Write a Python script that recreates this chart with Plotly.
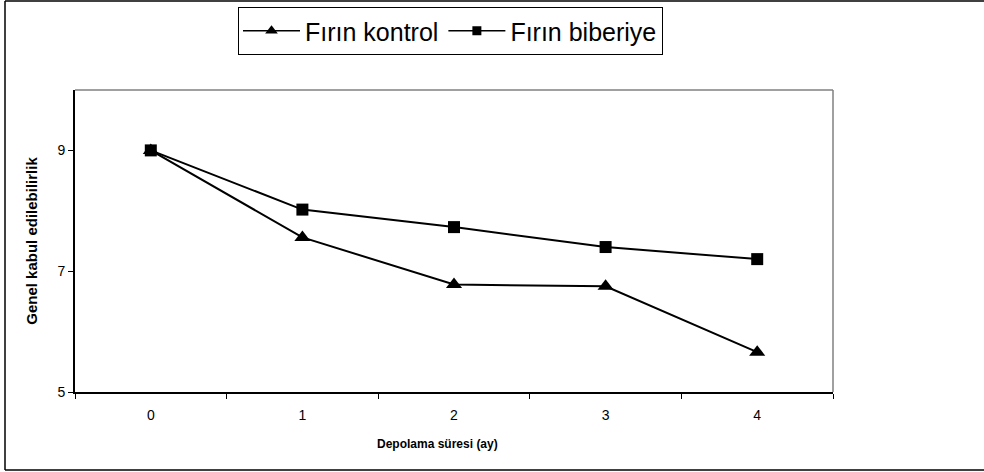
import plotly.graph_objects as go

months = ["0", "1", "2", "3", "4"]
firin_kontrol = [9.0, 7.56, 6.78, 6.75, 5.66]
firin_biberiye = [9.0, 8.02, 7.73, 7.40, 7.20]
y_ticks = [5, 7, 9]
series_names = ["Fırın kontrol", "Fırın biberiye"]
x_title = "Depolama süresi (ay)"
y_title = "Genel kabul edilebilirlik"

W, H = 984, 472
L, R, T, B = 75, 151, 90, 80
pw, ph = W - L - R, H - T - B

def px(x):
    return (x - L) / pw

def py(y):
    return (H - B - y) / ph

fig = go.Figure()
fig.add_trace(go.Scatter(
    x=months, y=firin_kontrol, name=series_names[0], mode="lines+markers",
    line=dict(color="black", width=2), showlegend=False, legendgroup="a",
    marker=dict(symbol="triangle-up", size=14, color="black"),
))
fig.add_trace(go.Scatter(
    x=months, y=firin_biberiye, name=series_names[1], mode="lines+markers",
    line=dict(color="black", width=2), showlegend=False, legendgroup="b",
    marker=dict(symbol="square", size=12, color="black"),
))
fig.add_trace(go.Scatter(
    x=[None], y=[None], name=series_names[0], mode="lines+markers", legendgroup="a",
    line=dict(color="black", width=1.5),
    marker=dict(symbol="triangle-up", size=11, color="black"),
))
fig.add_trace(go.Scatter(
    x=[None], y=[None], name=series_names[1], mode="lines+markers", legendgroup="b",
    line=dict(color="black", width=1.5),
    marker=dict(symbol="square", size=9, color="black"),
))

font_family = "Liberation Sans, Arial, sans-serif"

fig.update_layout(
    width=W, height=H,
    margin=dict(l=L, r=R, t=T, b=B, autoexpand=False),
    paper_bgcolor="white", plot_bgcolor="white",
    font=dict(family=font_family, color="black", size=14),
    showlegend=True,
    legend=dict(
        orientation="h", xref="container", x=450.5 / W, xanchor="center",
        yref="container", y=1 - 7 / H, yanchor="top",
        bordercolor="black", borderwidth=1, bgcolor="white",
        font=dict(size=25, family=font_family, color="black"),
        itemwidth=57, tracegroupgap=0,
    ),
    xaxis=dict(
        type="category", range=[-0.5, 4.5], tickson="boundaries",
        showline=True, linecolor="black", linewidth=2,
        ticks="outside", ticklen=5, tickcolor="black",
        showgrid=False, zeroline=False,
        tickfont=dict(size=14), ticklabelstandoff=9,
    ),
    yaxis=dict(
        range=[5, 10], tickvals=y_ticks,
        showline=True, linecolor="black", linewidth=2,
        ticks="outside", ticklen=5, tickcolor="black",
        showgrid=False, zeroline=False,
        tickfont=dict(size=14),
        title=dict(text="<b>" + y_title + "</b>", font=dict(size=15), standoff=16),
    ),
    annotations=[
        dict(text="<b>" + x_title + "</b>", xref="paper", yref="paper",
             x=px(437.5), y=py(444), xanchor="center", yanchor="middle",
             showarrow=False, font=dict(size=12, family=font_family, color="black")),
    ],
    shapes=[
        dict(type="line", xref="paper", yref="paper", x0=0, x1=1, y0=1, y1=1,
             line=dict(color="#808080", width=1.5)),
        dict(type="line", xref="paper", yref="paper", x0=1, x1=1, y0=0, y1=1,
             line=dict(color="#808080", width=1.5)),
        dict(type="line", xref="paper", yref="paper", x0=px(5), x1=px(5), y0=py(1), y1=py(470),
             line=dict(color="black", width=1.5)),
        dict(type="line", xref="paper", yref="paper", x0=px(5), x1=px(1000), y0=py(1), y1=py(1),
             line=dict(color="black", width=1.5)),
        dict(type="line", xref="paper", yref="paper", x0=px(5), x1=px(1000), y0=py(470), y1=py(470),
             line=dict(color="black", width=1.5)),
    ],
)

fig.write_html("out.html")
